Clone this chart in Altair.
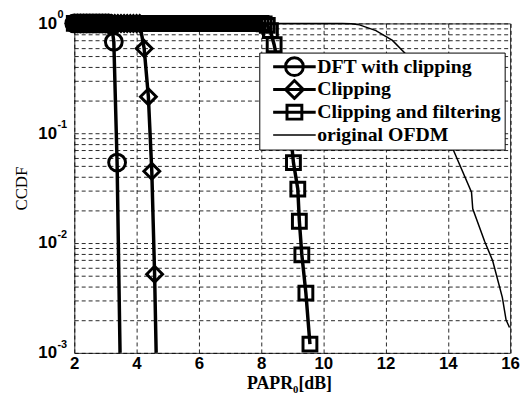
import altair as alt
import pandas as pd

# ---- data ----
dft_x = [2.0, 2.1, 2.2, 2.3, 2.4, 2.5, 2.6, 2.7, 2.8, 2.9, 3.0, 3.1, 3.2, 3.27, 3.375, 3.47]
dft_y = [1.0, 1.0, 1.0, 1.0, 1.0, 1.0, 1.0, 1.0, 1.0, 1.0, 1.0, 1.0, 0.97, 0.68, 0.054, 0.001]

clip_x = [2.0, 2.1, 2.2, 2.3, 2.4, 2.5, 2.6, 2.7, 2.8, 2.9, 3.0, 3.1, 3.2, 3.3, 3.4, 3.5,
          3.6, 3.7, 3.8, 3.9, 4.0, 4.1, 4.245, 4.38, 4.49, 4.58, 4.63]
clip_y = [1.0, 1.0, 1.0, 1.0, 1.0, 1.0, 1.0, 1.0, 1.0, 1.0, 1.0, 1.0, 1.0, 1.0, 1.0, 1.0,
          1.0, 1.0, 1.0, 1.0, 1.0, 1.0, 0.59, 0.215, 0.045, 0.0052, 0.001]

filt_x = [2.0, 2.1, 2.2, 2.3, 2.4, 2.5, 2.6, 2.7, 2.8, 2.9, 3.0, 3.1, 3.2, 3.3, 3.4, 3.5,
          3.6, 3.7, 3.8, 3.9, 4.0, 4.1, 4.2, 4.3, 4.4, 4.5, 4.6, 4.7, 4.8, 4.9, 5.0, 5.1,
          5.2, 5.3, 5.4, 5.5, 5.6, 5.7, 5.8, 5.9, 6.0, 6.1, 6.2, 6.3, 6.4, 6.5, 6.6, 6.7,
          6.8, 6.9, 7.0, 7.1, 7.2, 7.3, 7.4, 7.5, 7.6, 7.7, 7.8, 7.9, 8.0,
          8.1, 8.2, 8.3, 8.42, 8.55, 8.7, 8.85, 8.95, 9.04, 9.18, 9.23, 9.31, 9.44, 9.57]
filt_y = [1.0, 1.0, 1.0, 1.0, 1.0, 1.0, 1.0, 1.0, 1.0, 1.0, 1.0, 1.0, 1.0, 1.0, 1.0, 1.0,
          1.0, 1.0, 1.0, 1.0, 1.0, 1.0, 1.0, 1.0, 1.0, 1.0, 1.0, 1.0, 1.0, 1.0, 1.0, 1.0,
          1.0, 1.0, 1.0, 1.0, 1.0, 1.0, 1.0, 1.0, 1.0, 1.0, 1.0, 1.0, 1.0, 1.0, 1.0, 1.0,
          1.0, 1.0, 1.0, 1.0, 1.0, 1.0, 1.0, 1.0, 1.0, 1.0, 1.0, 1.0, 1.0,
          0.99, 0.96, 0.86, 0.64, 0.42, 0.24, 0.14, 0.10, 0.054, 0.031, 0.0158, 0.0078, 0.0035, 0.0012]

ofdm_x = [2.0, 10.6, 10.9, 11.16, 11.69, 12.22, 12.64, 13.2, 13.7, 14.18, 14.76, 14.80,
          15.18, 15.44, 15.75, 15.87, 15.98]
ofdm_y = [1.0, 1.0, 0.995, 0.97, 0.86, 0.70, 0.53, 0.30, 0.15, 0.070, 0.029, 0.0205,
          0.0104, 0.0069, 0.0032, 0.0020, 0.0017]

names = ["DFT with clipping", "Clipping", "Clipping and filtering", "original OFDM"]
x_ticks = [2, 4, 6, 8, 10, 12, 14, 16]
y_ticks = [0.001, 0.002, 0.003, 0.004, 0.005, 0.006, 0.007, 0.008, 0.009,
           0.01, 0.02, 0.03, 0.04, 0.05, 0.06, 0.07, 0.08, 0.09,
           0.1, 0.2, 0.3, 0.4, 0.5, 0.6, 0.7, 0.8, 0.9, 1.0]
exp_vals = [1.0, 0.1, 0.01, 0.001]
exp_text = ["0", "-1", "-2", "-3"]

rows = []
for name, xs, ys in zip(names, [dft_x, clip_x, filt_x, ofdm_x], [dft_y, clip_y, filt_y, ofdm_y]):
    for i, (a, b) in enumerate(zip(xs, ys)):
        rows.append({"series": name, "x": a, "ccdf": b, "idx": i})
df = pd.DataFrame(rows)
exp_df = pd.DataFrame({"v": exp_vals, "t": exp_text})

W, H = 440.5, 333

xenc = alt.X("x:Q", scale=alt.Scale(domain=[2, 16], nice=False, zero=False),
             axis=alt.Axis(values=x_ticks, title="PAPR\u2080[dB]", grid=True, ticks=False,
                           tickSize=0, domain=False, labelPadding=3,
                           labelFont="Liberation Sans", labelFontSize=17, labelFontWeight="bold",
                           labelColor="black", labelFlush=False,
                           titleFont="Liberation Serif", titleFontSize=18, titleFontWeight="bold",
                           titleColor="black", titleBaseline="bottom", titleY=40, titleX=217))
yenc = alt.Y("ccdf:Q", scale=alt.Scale(type="log", domain=[0.001, 1], nice=False),
             axis=alt.Axis(values=y_ticks, title="CCDF", grid=True, ticks=False, tickSize=0,
                           domain=False, labelPadding=18,
                           labelExpr="abs(log(datum.value)/LN10 - round(log(datum.value)/LN10)) < 1e-6 ? '10' : ''",
                           labelFont="Liberation Sans", labelFontSize=17, labelFontWeight="bold",
                           labelColor="black", labelFlush=False,
                           titleFont="Liberation Serif", titleFontSize=17, titleFontWeight="normal",
                           titleColor="black", titleX=-53, titleY=H / 2, titleBaseline="middle"))

base = alt.Chart(df)

thick = base.transform_filter(alt.datum.series != "original OFDM").mark_line(
    color="black", strokeWidth=3.5, strokeCap="butt").encode(
    x=xenc, y=yenc, detail="series:N", order="idx:Q")

thin = base.transform_filter(alt.datum.series == "original OFDM").mark_line(
    color="black", strokeWidth=1.5).encode(x=xenc, y=yenc, order="idx:Q")

marker_specs = [("DFT with clipping", "circle", 289),
                ("Clipping", "diamond", 256),
                ("Clipping and filtering", "square", 196)]
pts = []
for nm, shp, sz in marker_specs:
    pts.append(base.transform_filter(
        (alt.datum.series == nm) & (alt.datum.ccdf > 0.00101)).mark_point(
        shape=shp, size=sz, filled=False, color="black", strokeWidth=3, opacity=1).encode(
        x=xenc, y=yenc))

leg_paths = [
    "M-2.15,0H2.15M0.9,0A0.9,0.9,0,1,1,-0.9,0A0.9,0.9,0,1,1,0.9,0",
    "M-2.15,0H2.15M-0.9,0L0,-0.9L0.9,0L0,0.9Z",
    "M-2.15,0H2.15M-0.75,-0.7H0.75V0.7H-0.75Z",
    "M-2.15,0H2.15",
]
legend = alt.Legend(title=None, orient="none", legendX=187, legendY=29.5,
                    fillColor="white", strokeColor="black", padding=3, rowPadding=0,
                    clipHeight=22.5,
                    symbolSize=400, symbolOffset=22.5, labelOffset=13,
                    symbolStrokeColor="black", symbolFillColor="transparent",
                    symbolStrokeWidth=alt.ExprRef("datum.value === 'original OFDM' ? 1.5 : 3"),
                    symbolOpacity=1, labelFont="Liberation Serif", labelFontSize=20,
                    labelFontWeight="bold", labelColor="black", labelLimit=400, zindex=1,
                    labelExpr="datum.label + '\u00a0\u00a0'")

leg = base.mark_point(opacity=0, filled=False, color="black").encode(
    x=xenc, y=yenc,
    shape=alt.Shape("series:N", scale=alt.Scale(domain=names, range=leg_paths), legend=legend))

exps = alt.Chart(exp_df).mark_text(align="left", baseline="middle", dx=-17, dy=-8,
                                   font="Liberation Sans", fontSize=11, fontWeight="bold",
                                   color="black").encode(
    x=alt.datum(2), y=alt.Y("v:Q"), text="t:N")

chart = alt.layer(thick, thin, *pts, leg, exps).resolve_scale(shape="independent").properties(
    width=W, height=H,
    autosize=alt.AutoSizeParams(type="none"),
    padding={"left": 67, "top": 13.5, "right": 10, "bottom": 40},
).configure_view(stroke="#333", strokeWidth=1).configure_axis(
    gridColor="black", gridDash=[4, 3], gridWidth=1, gridOpacity=0.85)

chart.save("out.html", embed_options={"renderer": "svg", "actions": False})
